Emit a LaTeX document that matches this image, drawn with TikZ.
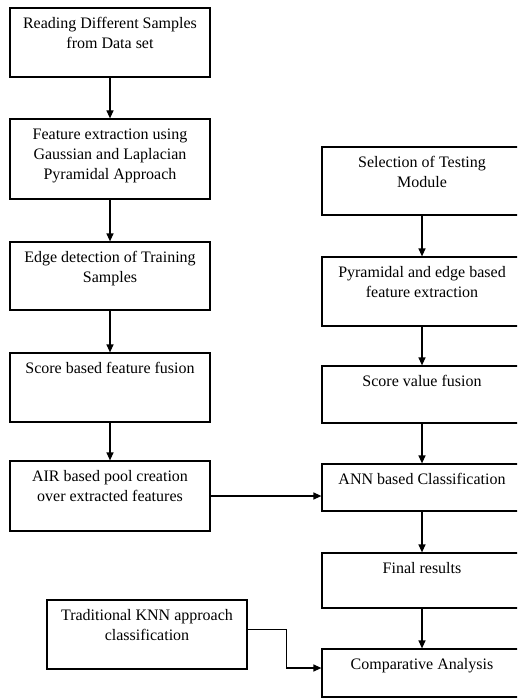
\documentclass[tikz,border=0pt]{standalone}
\usepackage{fontspec}
\setmainfont{Liberation Serif}
\usetikzlibrary{arrows.meta}

\begin{document}
\begin{tikzpicture}[
    x=1pt, y=-1pt,
    stepbox/.style={draw, line width=1.2pt, minimum width=200pt, inner sep=0pt},
    steptext/.style={anchor=north, align=center, inner sep=0pt, yshift=-10pt,
        font=\fontsize{16}{20}\selectfont},
    flow/.style={draw, line width=1.2pt, -{Triangle[length=8pt,width=7pt]}}
]
    \useasboundingbox (0,0) rectangle (517,698);
    \clip (0,0) rectangle (517,698);

    % training side
    \node[stepbox, minimum height=69pt,
        label={[steptext]north:Reading Different Samples\\from Data set}] (read) at (110,42.5) {};
    \node[stepbox, minimum height=80pt,
        label={[steptext]north:Feature extraction using\\Gaussian and Laplacian\\Pyramidal Approach}] (pyr) at (110,159) {};
    \node[stepbox, minimum height=68pt,
        label={[steptext]north:Edge detection of Training\\Samples}] (edge) at (110,276) {};
    \node[stepbox, minimum height=69pt,
        label={[steptext]north:Score based feature fusion}] (score) at (110,387.5) {};
    \node[stepbox, minimum height=70pt,
        label={[steptext]north:AIR based pool creation\\over extracted features}] (pool) at (110,496) {};

    % testing side
    \node[stepbox, minimum height=68pt,
        label={[steptext]north:Selection of Testing\\Module}] (select) at (422,181) {};
    \node[stepbox, minimum height=69pt,
        label={[steptext]north:Pyramidal and edge based\\feature extraction}] (testfeat) at (422,291.5) {};
    \node[stepbox, minimum height=57pt,
        label={[steptext]north:Score value fusion}] (fusion) at (422,394.5) {};
    \node[stepbox, minimum height=47pt,
        label={[steptext]north:ANN based Classification}] (ann) at (422,487.5) {};
    \node[stepbox, minimum height=55pt,
        label={[steptext]north:Final results}] (final) at (422,580.5) {};
    \node[stepbox, minimum height=48pt,
        label={[steptext]north:Comparative Analysis}] (comp) at (422,673) {};

    \node[stepbox, minimum height=69pt,
        label={[steptext]north:Traditional KNN approach\\classification}] (knn) at (147,634.5) {};

    \draw[flow] (read) -- (pyr);
    \draw[flow] (pyr) -- (edge);
    \draw[flow] (edge) -- (score);
    \draw[flow] (score) -- (pool);
    \draw[flow] (select) -- (testfeat);
    \draw[flow] (testfeat) -- (fusion);
    \draw[flow] (fusion) -- (ann);
    \draw[flow] (ann) -- (final);
    \draw[flow] (final) -- (comp);
    \draw[flow] (pool.east) -- (pool.east -| ann.west);
    \draw[flow] ([yshift=5pt]knn.east) -- ++(39,0) |- ([yshift=5pt]comp.west);
\end{tikzpicture}
\end{document}
